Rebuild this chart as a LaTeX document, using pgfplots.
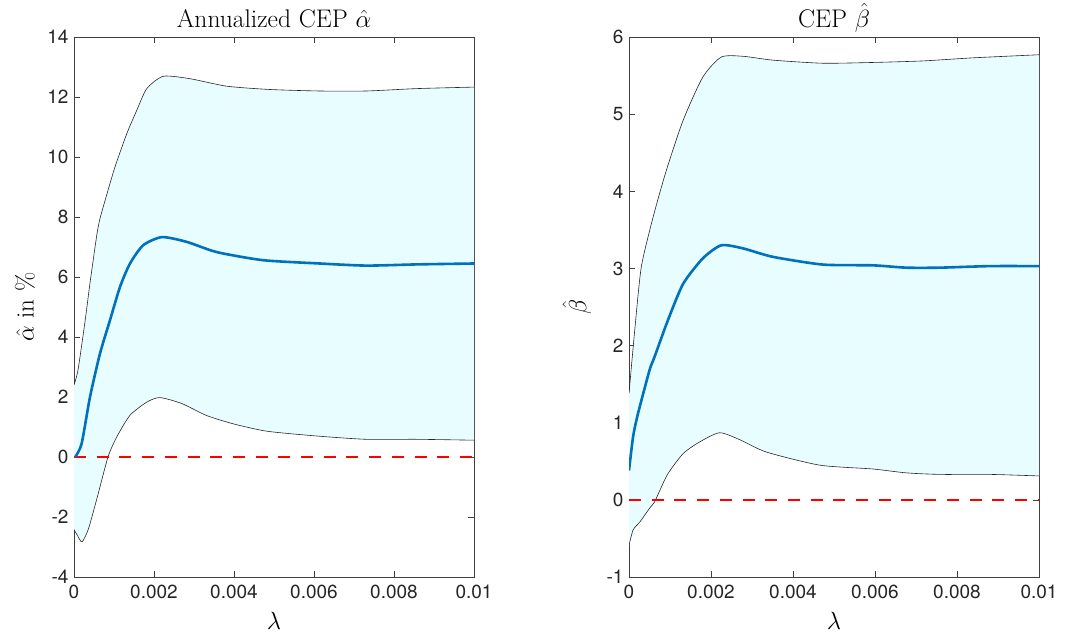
\documentclass[border=0pt]{standalone}
\usepackage{pgfplots}
\pgfplotsset{compat=1.18}
\usepackage{fontspec}
\newfontfamily\ticksfont{TeX Gyre Heros}
\definecolor{cepfill}{RGB}{232,253,255}
\definecolor{axgray}{RGB}{64,64,64}
\definecolor{mblue}{RGB}{0,114,189}
\definecolor{tickc}{RGB}{38,38,38}
\pgfplotsset{
  every axis title shift=0pt,
  cepaxis/.style={
    scale only axis, height=540pt,
    xmin=0, xmax=0.01,
    scaled x ticks=false, scaled y ticks=false,
    xtick={0,0.002,0.004,0.006,0.008,0.01},
    xticklabels={0,0.002,0.004,0.006,0.008,0.01},
    tick align=inside, tick pos=both,
    major tick length=6pt,
    axis line style={axgray, line width=0.6pt},
    tick style={axgray, line width=0.6pt},
    /pgf/number format/assume math mode=true,
    tick label style={font=\ticksfont\fontsize{19}{21}\selectfont, text=tickc},
    xticklabel style={yshift=-4pt},
    yticklabel style={xshift=-2pt},
    title style={font=\fontsize{25.5}{30}\selectfont, at={(axis description cs:0.5,1.0185)}, anchor=base},
    label style={font=\fontsize{25}{28}\selectfont},
    xlabel style={at={(axis description cs:0.5,-0.081)}, anchor=center},
  },
  bnd/.style={black!85, line width=0.6pt, smooth, tension=0.4},
  mean/.style={mblue, line width=2.6pt, smooth, tension=0.4},
  zero/.style={red, line width=2.6pt, dash pattern=on 12pt off 10.7pt},
  band/.style={fill=cepfill, draw=none, smooth, tension=0.4},
}
\begin{document}
\begin{tikzpicture}
\useasboundingbox (0,0) rectangle (1067pt,638pt);
\begin{axis}[cepaxis, at={(74pt,61pt)}, anchor=south west, width=400pt,
  ymin=-4, ymax=14, ytick={-4,-2,0,2,4,6,8,10,12,14},
  yticklabels={-4,-2,0,2,4,6,8,10,12,14},
  title={Annualized CEP $\hat{\alpha}$},
  xlabel={$\lambda$}, ylabel={$\hat{\alpha}$ in \%},
  ylabel style={at={(axis description cs:-0.1225,0.5)}, anchor=center}]
% band: upper bound, then lower bound reversed (padded outside the axis)
\addplot[band] coordinates {
(-0.0003,2.4)
(0,2.4) (0.0001,2.9) (0.00028,4.56) (0.0004,5.8) (0.00057,7.4) (0.00065,7.95)
(0.00082,8.75) (0.001025,9.67) (0.00132,10.78) (0.00157,11.56) (0.00182,12.28)
(0.00223,12.69) (0.0029,12.61) (0.00382,12.36) (0.0049,12.25) (0.00615,12.2)
(0.0073,12.2) (0.00857,12.28) (0.01,12.33) (0.0103,12.35)
(0.0103,0.56)
(0.01,0.56) (0.00857,0.59) (0.0073,0.59) (0.00607,0.7) (0.00482,0.86)
(0.00397,1.11) (0.0033,1.39) (0.0027,1.78) (0.00215,1.98) (0.00182,1.83)
(0.0014,1.39) (0.00107,0.67) (0.00085,0) (0.00057,-1.4) (0.00036,-2.4)
(0.0002,-2.83) (0.00008,-2.6) (0,-2.42) (-0.0003,-2.42)} -- cycle;
\addplot[bnd] coordinates {
(0,2.4) (0.0001,2.9) (0.00028,4.56) (0.0004,5.8) (0.00057,7.4) (0.00065,7.95)
(0.00082,8.75) (0.001025,9.67) (0.00132,10.78) (0.00157,11.56) (0.00182,12.28)
(0.00223,12.69) (0.0029,12.61) (0.00382,12.36) (0.0049,12.25) (0.00615,12.2)
(0.0073,12.2) (0.00857,12.28) (0.01,12.33)};
\addplot[bnd] coordinates {
(0,-2.42) (0.00008,-2.6) (0.0002,-2.83) (0.00036,-2.4) (0.00057,-1.4) (0.00085,0)
(0.00107,0.67) (0.0014,1.39) (0.00182,1.83) (0.00215,1.98) (0.0027,1.78)
(0.0033,1.39) (0.00397,1.11) (0.00482,0.86) (0.00607,0.7) (0.0073,0.59)
(0.00857,0.59) (0.01,0.56)};
\addplot[zero] coordinates {(0,0) (0.01,0)};
\addplot[mean] coordinates {
(0.00003,0) (0.00019,0.44) (0.0004,2.0) (0.00065,3.45) (0.0009,4.56)
(0.00115,5.67) (0.0014,6.45) (0.00173,7.06) (0.0022,7.33) (0.00282,7.17)
(0.00357,6.83) (0.00473,6.56) (0.00615,6.45) (0.0073,6.38) (0.00857,6.42)
(0.01,6.45)};
\end{axis}
\begin{axis}[cepaxis, at={(629pt,61pt)}, anchor=south west, width=410pt,
  ymin=-1, ymax=6, ytick={-1,0,1,2,3,4,5,6},
  yticklabels={-1,0,1,2,3,4,5,6},
  title={CEP $\hat{\beta}$},
  xlabel={$\lambda$}, ylabel={$\hat{\beta}$},
  ylabel style={at={(axis description cs:-0.127,0.5)}, anchor=center}]
\addplot[band] coordinates {
(-0.0003,1.38)
(0,1.38) (0.00014,2.2) (0.0003,3.02) (0.00059,3.67) (0.00091,4.27)
(0.00132,4.92) (0.0018,5.48) (0.00225,5.74) (0.00278,5.75) (0.00351,5.70)
(0.00473,5.66) (0.00595,5.67) (0.00717,5.69) (0.00839,5.73) (0.01,5.77) (0.0103,5.78)
(0.0103,0.31)
(0.01,0.31) (0.0088,0.33) (0.00758,0.33) (0.00676,0.35) (0.00595,0.40)
(0.00465,0.45) (0.00335,0.62) (0.0027,0.78) (0.00221,0.87) (0.00172,0.75)
(0.00132,0.60) (0.00095,0.34) (0.00075,0.12) (0.00062,-0.03) (0.0005,-0.11)
(0.00026,-0.29) (0.0001,-0.39) (0,-0.59) (-0.0003,-0.59)} -- cycle;
\addplot[bnd] coordinates {
(0,1.38) (0.00014,2.2) (0.0003,3.02) (0.00059,3.67) (0.00091,4.27)
(0.00132,4.92) (0.0018,5.48) (0.00225,5.74) (0.00278,5.75) (0.00351,5.70)
(0.00473,5.66) (0.00595,5.67) (0.00717,5.69) (0.00839,5.73) (0.01,5.77)};
\addplot[bnd] coordinates {
(0,-0.59) (0.0001,-0.39) (0.00026,-0.29) (0.0005,-0.11) (0.00062,-0.03)
(0.00075,0.12) (0.00095,0.34) (0.00132,0.60) (0.00172,0.75) (0.00221,0.87)
(0.0027,0.78) (0.00335,0.62) (0.00465,0.45) (0.00595,0.40) (0.00676,0.35)
(0.00758,0.33) (0.0088,0.33) (0.01,0.31)};
\addplot[zero] coordinates {(0,0) (0.01,0)};
\addplot[mean] coordinates {
(0,0.38) (0.0001,0.82) (0.00022,1.12) (0.0005,1.68) (0.00062,1.85)
(0.00095,2.33) (0.00132,2.80) (0.0018,3.13) (0.00225,3.30) (0.00278,3.26)
(0.00351,3.15) (0.00473,3.05) (0.00595,3.04) (0.00676,3.01) (0.00758,3.01)
(0.0088,3.03) (0.01,3.03)};
\end{axis}
\end{tikzpicture}
\end{document}
